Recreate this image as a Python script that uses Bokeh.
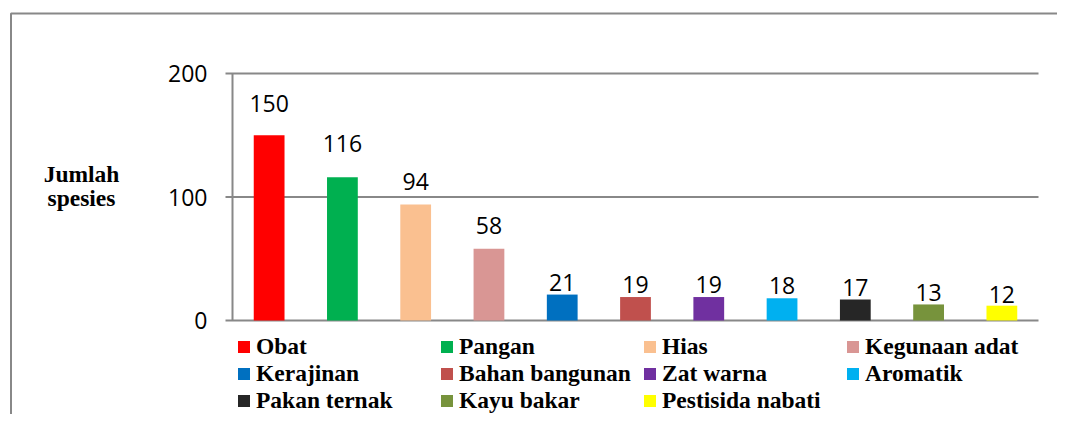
from bokeh.plotting import figure
from bokeh.models import (ColumnDataSource, Range1d, LabelSet, Legend, LegendItem,
                          BoxAnnotation)
from bokeh.core.properties import value
from bokeh.embed import file_html
from bokeh.resources import INLINE

categories = ["Obat", "Pangan", "Hias", "Kegunaan adat", "Kerajinan", "Bahan bangunan",
              "Zat warna", "Aromatik", "Pakan ternak", "Kayu bakar", "Pestisida nabati"]
values = [150, 116, 94, 58, 21, 19, 19, 18, 17, 13, 12]
colors = ["#FF0000", "#00B050", "#FAC090", "#D99694", "#0070C0", "#C0504D",
          "#7030A0", "#00B0F0", "#262626", "#77933C", "#FFFF00"]
y_ticks = [0, 100, 200]
y_title = ["Jumlah", "spesies"]
# pixel gap between bar top and its value label (as drawn in the original)
label_gap = [23, 25, 14, 15, 4, 4, 4, 4, 4, 3, 3]

GRAY = "#888888"
W, H = 1057, 414
# plot area in canvas pixels
PL, PR, PT, PB = 232, 1038, 73, 320
n = len(categories)
ymax = y_ticks[-1]
sx = (PR - PL) / n          # px per category
sy = (PB - PT) / ymax       # px per unit

x_range = Range1d(-PL / sx, (W - PL) / sx)
y_range = Range1d(-(H - PB) / sy, PB / sy)

p = figure(width=W, height=H, output_backend="svg", toolbar_location=None,
           x_range=x_range, y_range=y_range, min_border=0)
p.axis.visible = False
p.grid.visible = False
p.outline_line_color = None
p.background_fill_color = "white"
p.border_fill_color = "white"

xc = [i + 0.5 for i in range(n)]
src = ColumnDataSource(dict(x=xc, cat=categories, val=values, col=colors,
                            lab=[str(v) for v in values], gap=label_gap))

# y axis: gridlines (with outward ticks), axis line, tick labels
tick_len = 7 / sx
p.segment(x0=[-tick_len] * len(y_ticks), x1=[n] * len(y_ticks), y0=y_ticks, y1=y_ticks,
          line_color=GRAY, line_width=2)
p.segment(x0=[0], x1=[0], y0=[y_ticks[0]], y1=[ymax], line_color=GRAY, line_width=2)
tick_src = ColumnDataSource(dict(x=[-25 / sx] * len(y_ticks), y=y_ticks,
                                 t=[str(t) for t in y_ticks]))
p.add_layout(LabelSet(x="x", y="y", text="t", source=tick_src, y_offset=-8.5,
                      text_align="right", text_baseline="alphabetic",
                      text_font=value("Open Sans"), text_font_size="23px",
                      text_color="black"))

r = p.vbar(x="x", top="val", width=0.42, fill_color="col", line_color=None, source=src)

p.add_layout(LabelSet(x="x", y="val", text="lab", y_offset="gap", source=src,
                      text_align="center", text_baseline="alphabetic",
                      text_font=value("Open Sans"), text_font_size="23px",
                      text_color="black"))

# y title (two lines, horizontal)
title_src = ColumnDataSource(dict(x=[(81 - PL) / sx] * 2,
                                  y=[(PB - 181) / sy, (PB - 205) / sy], t=y_title))
p.add_layout(LabelSet(x="x", y="y", text="t", source=title_src,
                      text_align="center", text_baseline="alphabetic",
                      text_font=value("Liberation Serif"), text_font_style="bold",
                      text_font_size="23.5px", text_color="black"))

# outer chart border (only its left and top edges fall inside the picture)
p.add_layout(BoxAnnotation(left=(10.5 - PL) / sx, top=(PB - 13) / sy,
                           right=n + 10, bottom=-1000,
                           fill_color=None, line_color=GRAY, line_alpha=1.0,
                           line_width=2))

items = [LegendItem(label=c, renderers=[r], index=i) for i, c in enumerate(categories)]
legend = Legend(items=items, orientation="horizontal", ncols=4, location=(236, 0),
                label_text_font="Liberation Serif", label_text_font_style="bold",
                label_text_font_size="23.5px", label_text_color="black",
                label_standoff=5, glyph_width=15, glyph_height=15, label_width=183,
                spacing=0, padding=0, margin=0,
                border_line_color=None, background_fill_alpha=0)
p.add_layout(legend)

open("out.html", "w").write(file_html(p, INLINE))
